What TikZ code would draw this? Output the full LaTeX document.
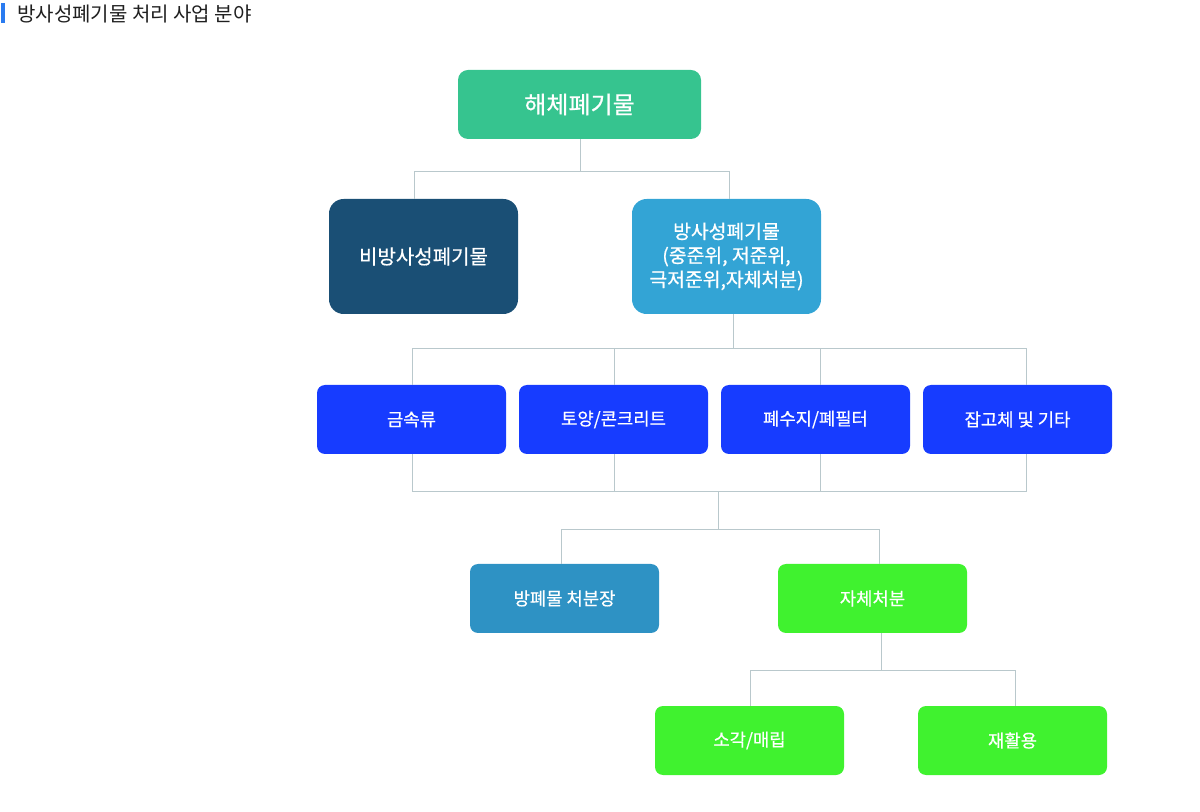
\documentclass[tikz,border=0pt]{standalone}
\usepackage{fontspec}
\usepackage{xcolor}
\usepackage{tikz}

\setmainfont{Noto Sans CJK KR}
\newfontfamily\medfont[FakeBold=0.6]{Noto Sans CJK KR}

\definecolor{topgreen}{HTML}{36C48F}
\definecolor{darkblue}{HTML}{1A4F75}
\definecolor{skyblue}{HTML}{33A4D5}
\definecolor{rowblue}{HTML}{173CFF}
\definecolor{midblue}{HTML}{2E92C4}
\definecolor{litegreen}{HTML}{40F22F}
\definecolor{linegray}{HTML}{B9C8CC}
\definecolor{barblue}{HTML}{2A7BF0}

\begin{document}
\begin{tikzpicture}[
				x=0.75pt, y=-0.75pt,
				box/.style={
					rectangle,
					rounded corners=6pt,
					fill=#1,
					text=white,
					inner sep=0pt,
					minimum width=141.75pt,
					minimum height=51.75pt,
					align=center,
					font=\medfont\fontsize{13.3}{16}\selectfont
				},
				bigbox/.style={
					box=#1,
					rounded corners=11pt,
					minimum height=86.25pt
				},
				edge/.style={
					draw=linegray,
					line width=0.75pt
				}
			]

				\useasboundingbox (0,0) rectangle (1200,812);

				\fill[barblue] (1,3) rectangle (5,23);
				\node[anchor=west, text=black!88, inner sep=0pt,
					font=\fontsize{15}{18}\selectfont]
					(title) at (17,14) {방사성폐기물 처리 사업 분야};

				\node[box=topgreen, rounded corners=7.5pt, minimum width=182.25pt,
					font=\medfont\fontsize{18}{21}\selectfont]
					(haeche) at (579.5,104.5) {해체폐기물};

				\node[bigbox=darkblue, font=\medfont\fontsize{15}{18}\selectfont]
					(bibang) at (423.5,256.5) {비방사성폐기물};
				\node[bigbox=skyblue, font=\medfont\fontsize{14.5}{18}\selectfont]
					(bang) at (726.5,256.5)
					{방사성폐기물\\(중준위, 저준위,\\극저준위,자체처분)};

				\node[box=rowblue] (geum) at (411.5,419.5) {금속류};
				\node[box=rowblue] (toyang) at (613.5,419.5) {토양/콘크리트};
				\node[box=rowblue] (pesu) at (815.5,419.5) {폐수지/폐필터};
				\node[box=rowblue] (japgo) at (1017.5,419.5) {잡고체 및 기타};

				\node[box=midblue] (cheobun) at (564.5,598.5) {방폐물 처분장};
				\node[box=litegreen] (jache) at (872.5,598.5) {자체처분};

				\node[box=litegreen] (sogak) at (749.5,740.5) {소각/매립};
				\node[box=litegreen] (jaehwal) at (1012.5,740.5) {재활용};

				\coordinate (merge) at (718,492);

				\draw[edge]
					([xshift=1.1pt]haeche.south) -- ++(0,32) coordinate (split1);
				\draw[edge] (split1) -| ([xshift=-6.4pt]bibang.north);
				\draw[edge] (split1) -| ([xshift=1.9pt]bang.north);

				\draw[edge]
					([xshift=5.6pt]bang.south) -- ++(0,34) coordinate (split2);
				\draw[edge] (split2) -| ([xshift=1.1pt]geum.north);
				\draw[edge] (split2) -| ([xshift=1.1pt]toyang.north);
				\draw[edge] (split2) -| ([xshift=4.1pt]pesu.north);
				\draw[edge] (split2) -| ([xshift=7.1pt]japgo.north);

				\draw[edge] ([xshift=0.4pt]geum.south) |- (merge);
				\draw[edge] ([xshift=6.4pt]japgo.south) |- (merge);
				\draw[edge] ([xshift=1.1pt]toyang.south) -- ++(0,38);
				\draw[edge] ([xshift=4.1pt]pesu.south) -- ++(0,38);

				\draw[edge]
					(merge) -- ++(0,38) coordinate (split3);
				\draw[edge] (split3) -| ([xshift=-2.6pt]cheobun.north);
				\draw[edge] (split3) -| ([xshift=5.6pt]jache.north);

				\draw[edge]
					([xshift=6.4pt]jache.south) -- ++(0,37) coordinate (split4);
				\draw[edge] (split4) -| ([xshift=1.1pt]sogak.north);
				\draw[edge] (split4) -| ([xshift=1.9pt]jaehwal.north);

			\end{tikzpicture}
\end{document}
